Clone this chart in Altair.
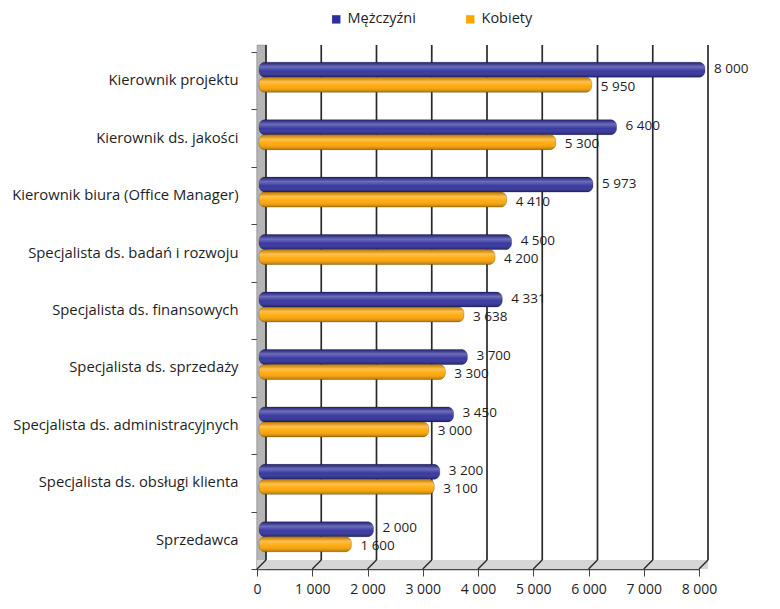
import altair as alt
import pandas as pd

categories = [
    "Kierownik projektu",
    "Kierownik ds. jakości",
    "Kierownik biura (Office Manager)",
    "Specjalista ds. badań  i rozwoju",
    "Specjalista ds. finansowych",
    "Specjalista ds. sprzedaży",
    "Specjalista ds. administracyjnych",
    "Specjalista ds. obsługi klienta",
    "Sprzedawca",
]
men = [8000, 6400, 5973, 4500, 4331, 3700, 3450, 3200, 2000]
women = [5950, 5300, 4410, 4200, 3638, 3300, 3000, 3100, 1600]
ticks = [0, 1000, 2000, 3000, 4000, 5000, 6000, 7000, 8000]
series = ["Mężczyźni", "Kobiety"]
colors = ["#2E2E9C", "#FFA500"]

FONT = "Open Sans"
TXT = "#1e1e1e"
df = pd.DataFrame({"cat": categories, "men": men, "women": women})
tick_df = pd.DataFrame({"t": ticks})
floor_df = pd.DataFrame({"start": [ticks[0]], "end": [ticks[-1]]})

W, H = 442, 517
DX, DY = 9, 9  # 3D depth

xscale = alt.Scale(domain=[ticks[0], ticks[-1]], nice=False)
yscale = alt.Scale(domain=categories, paddingInner=0, paddingOuter=0)
cscale = alt.Scale(domain=series, range=colors)

xaxis = alt.Axis(values=ticks, labelExpr="replace(format(datum.value, ','), ',', ' ')",
                 grid=False, domainColor="#444", tickColor="#444", tickSize=7,
                 labelPadding=6, labelFontSize=14, labelColor=TXT, labelFont=FONT,
                 labelFlush=False, title=None, domainWidth=1.5)
yaxis = alt.Axis(tickBand="extent", grid=False, domainColor="#444", tickColor="#444",
                 tickSize=6, labelPadding=13, labelFontSize=14.8, labelColor=TXT,
                 labelFont=FONT, title=None, labelLimit=400, domainWidth=1.5)

base = alt.Chart(df).transform_calculate(zero="0")

# left wall
wall = alt.Chart(floor_df).mark_rect(color="#b5b5b5", x2Offset=DX, stroke="#888", strokeWidth=0.5).encode(
    x=alt.X("start:Q", scale=xscale, axis=xaxis),
    x2="start:Q",
    y=alt.value(-7), y2=alt.value(H),
)
# floor
floor = alt.Chart(floor_df).mark_rect(color="#d6d6d6", x2Offset=DX).encode(
    x=alt.X("start:Q", scale=xscale),
    x2="end:Q",
    y=alt.value(H - DY), y2=alt.value(H),
)
grid = alt.Chart(tick_df).mark_rule(color="#2a2a2a", strokeWidth=1.7, xOffset=DX).encode(
    x=alt.X("t:Q", scale=xscale),
    y=alt.value(-7), y2=alt.value(H - DY),
)
diag = alt.Chart(tick_df).mark_rule(color="#2a2a2a", strokeWidth=1.5, x2Offset=DX).encode(
    x=alt.X("t:Q", scale=xscale),
    x2="t:Q",
    y=alt.value(H), y2=alt.value(H - DY),
)

grad = alt.Gradient(
    gradient="linear", x1=0, x2=0, y1=0, y2=1,
    stops=[
        alt.GradientStop(color="rgba(0,0,0,0.25)", offset=0),
        alt.GradientStop(color="rgba(255,255,255,0.30)", offset=0.3),
        alt.GradientStop(color="rgba(255,255,255,0.05)", offset=0.6),
        alt.GradientStop(color="rgba(0,0,0,0.30)", offset=1),
    ],
)

legend = alt.Legend(
    title=None, orient="none", legendX=72, legendY=-40, direction="horizontal",
    symbolType="square", symbolSize=70, symbolStrokeWidth=0,
    labelFontSize=14.5, labelFont=FONT, labelColor=TXT, columnPadding=47)

def bars(field, idx, yoff):
    enc = dict(
        x=alt.X(f"{field}:Q", scale=xscale, stack=None),
        x2="zero:Q",
        y=alt.Y("cat:N", scale=yscale, sort=categories, axis=yaxis),
    )
    b = base.transform_calculate(s=f"'{series[idx]}'").mark_bar(
        height=15, yOffset=yoff, xOffset=6, x2Offset=2,
        cornerRadiusEnd=6, stroke="rgba(0,0,0,0.35)", strokeWidth=0.6).encode(
        color=alt.Color("s:N", scale=cscale, legend=legend), **enc
    )
    o = base.mark_bar(height=15, yOffset=yoff, xOffset=6, x2Offset=2,
                      cornerRadiusEnd=6, fill=grad).encode(**enc)
    return b + o

def labels(field, yoff):
    return base.transform_calculate(
        lab=f"replace(format(datum.{field}, ','), ',', ' ')"
    ).mark_text(align="left", baseline="middle", dx=15, yOffset=yoff,
                fontSize=13.5, font=FONT, color=TXT).encode(
        x=alt.X(f"{field}:Q", scale=xscale),
        y=alt.Y("cat:N", scale=yscale, sort=categories),
        text="lab:N",
    )

chart = alt.layer(
    wall, floor, grid, diag,
    bars("men", 0, -11), bars("women", 1, 4),
    labels("men", -12), labels("women", 6),
).properties(
    width=W, height=H,
    autosize=alt.AutoSizeParams(type="none"),
    padding={"left": 249, "top": 44, "right": 73, "bottom": 32},
    background="white",
).configure_view(stroke=None)

chart.save("out.html", embed_options={"renderer": "svg", "actions": False})
